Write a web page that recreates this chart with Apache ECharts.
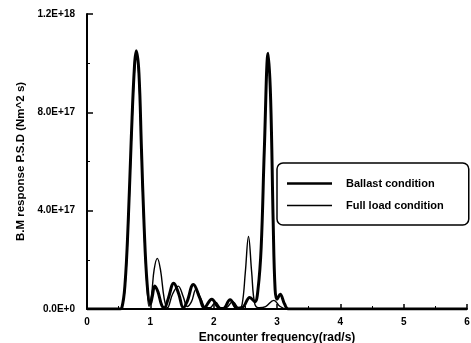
<!DOCTYPE html>
<html>
<head>
<meta charset="utf-8">
<script src="https://cdn.jsdelivr.net/npm/echarts@6/dist/echarts.min.js"></script>
<style>html,body{margin:0;padding:0;background:#fff;}#c{width:471px;height:343px;}</style>
</head>
<body>
<div id="c"></div>
<script>
var FONT = '"Liberation Sans", Arial, sans-serif';
var seriesNames = ['Ballast condition', 'Full load condition'];
var xTickLabels = ['0', '1', '2', '3', '4', '5', '6'];
var yTickLabels = ['0.0E+0', '4.0E+17', '8.0E+17', '1.2E+18'];
var UNIT = 1e17;
// [frequency (rad/s), P.S.D in units of 1e17]
var ballast = [
  [0, 0], [0.5, 0], [0.55, 0.05], [0.6, 1.0], [0.65, 3.5], [0.7, 7.0], [0.75, 9.9], [0.78, 10.5],
  [0.82, 9.6], [0.86, 6.5], [0.9, 3.5], [0.95, 1.0], [1.0, 0.2], [1.03, 0.5], [1.07, 0.94],
  [1.12, 0.7], [1.18, 0.15], [1.22, 0.05], [1.28, 0.4], [1.37, 1.05], [1.45, 0.6], [1.52, 0.05],
  [1.58, 0.3], [1.68, 1.0], [1.78, 0.45], [1.85, 0.05], [1.97, 0.4], [2.08, 0.05], [2.15, 0.02],
  [2.26, 0.38], [2.37, 0.03], [2.45, 0.05], [2.57, 0.47], [2.65, 0.3], [2.7, 0.8], [2.75, 2.5],
  [2.8, 6.5], [2.86, 10.4], [2.9, 8.5], [2.94, 3.5], [2.97, 0.8], [3.0, 0.4], [3.05, 0.6],
  [3.12, 0.2], [3.18, 0], [6, 0]
];
var fullLoad = [
  [0, 0], [0.5, 0], [0.55, 0.05], [0.6, 0.9], [0.65, 3.3], [0.7, 6.8], [0.75, 9.7], [0.78, 10.3],
  [0.82, 9.4], [0.86, 6.3], [0.9, 3.3], [0.95, 0.8], [0.98, 0.1], [1.02, 0.6], [1.06, 1.6],
  [1.11, 2.06], [1.16, 1.6], [1.22, 0.4], [1.27, 0.05], [1.35, 0.6], [1.44, 0.93], [1.52, 0.5],
  [1.58, 0.1], [1.65, 0.3], [1.72, 0.8], [1.8, 0.4], [1.88, 0.05], [1.94, 0.05], [2.03, 0.28],
  [2.12, 0.03], [2.2, 0.05], [2.3, 0.3], [2.4, 0.03], [2.45, 0.2], [2.5, 1.5], [2.55, 2.95],
  [2.6, 1.5], [2.65, 0.2], [2.72, 0.05], [2.82, 0.1], [2.95, 0.35], [3.05, 0.1], [3.15, 0], [6, 0]
];
function scale(arr) { return arr.map(function (p) { return [p[0], p[1] * UNIT]; }); }

var chart = echarts.init(document.getElementById('c'));
chart.setOption({
  animation: false,
  backgroundColor: '#fff',
  grid: { left: 87, right: 4, top: 14, bottom: 34, outerBoundsMode: 'none', containLabel: false },
  legend: {
    orient: 'vertical', left: 277, top: 163,
    padding: [15, 25, 14, 10],
    itemWidth: 45, itemHeight: 12, itemGap: 11,
    borderColor: '#000', borderWidth: 1.5, borderRadius: 6,
    textStyle: { fontFamily: FONT, fontWeight: 'bold', fontSize: 11, color: '#000', padding: [0, 0, 0, 9] },
    data: [
      { name: seriesNames[0], icon: 'path://M0,0H45V2.6H0Z' },
      { name: seriesNames[1], icon: 'path://M0,0H45V1.4H0Z' }
    ]
  },
  xAxis: {
    type: 'value', min: 0, max: 6, interval: 1,
    name: 'Encounter frequency(rad/s)', nameLocation: 'middle', nameGap: 19,
    nameTextStyle: { fontFamily: FONT, fontWeight: 'bold', fontSize: 12, color: '#000' },
    axisLine: { lineStyle: { color: '#000', width: 2 } },
    axisTick: { inside: true, length: 5, lineStyle: { color: '#000', width: 1.5 } },
    minorTick: { show: true, splitNumber: 2, length: 3, lineStyle: { color: '#000', width: 1 } },
    splitLine: { show: false },
    axisLabel: { margin: 8, fontFamily: FONT, fontWeight: 'bold', fontSize: 10, color: '#000',
      formatter: function (v) { return xTickLabels[Math.round(v)]; } }
  },
  yAxis: {
    type: 'value', min: 0, max: 12 * UNIT, interval: 4 * UNIT,
    name: 'B.M response P.S.D (Nm^2 s)', nameLocation: 'middle', nameRotate: 90, nameGap: 59,
    nameTextStyle: { fontFamily: FONT, fontWeight: 'bold', fontSize: 11.5, color: '#000' },
    axisLine: { show: true, lineStyle: { color: '#000', width: 2 } },
    axisTick: { inside: true, length: 6, lineStyle: { color: '#000', width: 1.5 } },
    minorTick: { show: true, splitNumber: 2, length: 3, lineStyle: { color: '#000', width: 1 } },
    splitLine: { show: false },
    axisLabel: { margin: 12, fontFamily: FONT, fontWeight: 'bold', fontSize: 10, color: '#000',
      formatter: function (v) { return yTickLabels[Math.round(v / (4 * UNIT))]; } }
  },
  series: [
    { name: seriesNames[0], type: 'line', data: scale(ballast), symbol: 'none', smooth: 0.4,
      lineStyle: { color: '#000', width: 3 }, itemStyle: { color: '#000' }, z: 3 },
    { name: seriesNames[1], type: 'line', data: scale(fullLoad), symbol: 'none', smooth: 0.4,
      lineStyle: { color: '#000', width: 1.4 }, itemStyle: { color: '#000' }, z: 4 }
  ]
});
</script>
</body>
</html>
